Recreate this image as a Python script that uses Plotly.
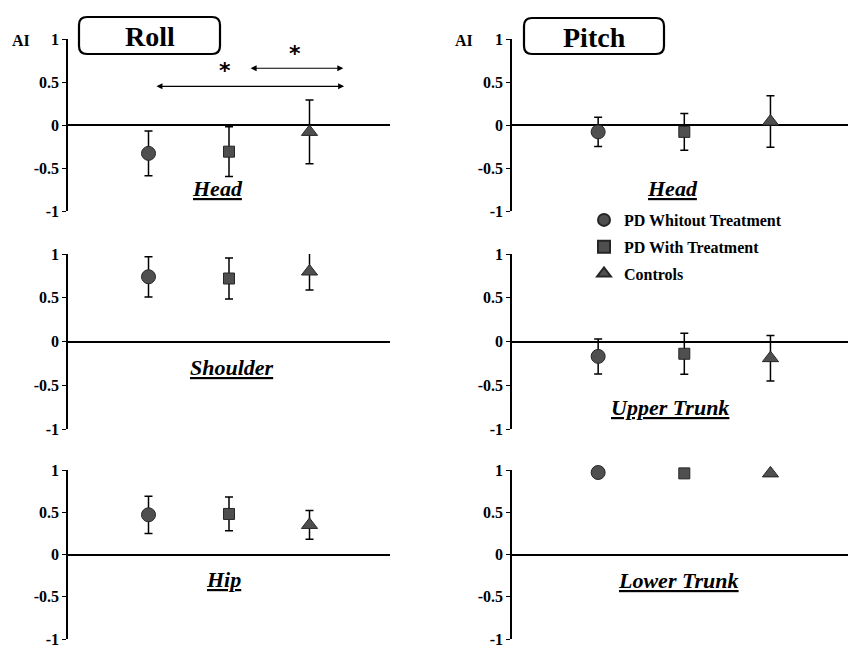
import plotly.graph_objects as go

W, H = 848, 648

groups = ["PD Whitout Treatment", "PD With Treatment", "Controls"]
group_x = [1, 2, 3]
symbols = ["circle", "square", "triangle-up"]
sizes = [14, 11, 14]

roll_head_mean = [-0.33, -0.31, -0.08]
roll_head_err = [0.26, 0.29, 0.37]
roll_shoulder_mean = [0.74, 0.72, 0.80]
roll_shoulder_err = [0.23, 0.235, 0.21]
roll_hip_mean = [0.47, 0.48, 0.35]
roll_hip_err = [0.22, 0.20, 0.17]
pitch_head_mean = [-0.08, -0.08, 0.04]
pitch_head_err = [0.17, 0.215, 0.30]
pitch_upper_mean = [-0.17, -0.14, -0.19]
pitch_upper_err = [0.20, 0.235, 0.26]
pitch_lower_mean = [0.97, 0.96, 0.96]
pitch_lower_err = [0.0, 0.0, 0.0]

yticks = [-1, -0.5, 0, 0.5, 1]
ytick_labels = ["-1", "-0.5", "0", "0.5", "1"]

panels = [
    # (axis suffix, means, errs, label, label x, label y)
    ("", roll_head_mean, roll_head_err, "Head", 1.86, -0.74),
    ("2", pitch_head_mean, pitch_head_err, "Head", 1.86, -0.74),
    ("3", roll_shoulder_mean, roll_shoulder_err, "Shoulder", 2.04, -0.30),
    ("4", pitch_upper_mean, pitch_upper_err, "Upper Trunk", 1.83, -0.75),
    ("5", roll_hip_mean, roll_hip_err, "Hip", 1.93, -0.30),
    ("6", pitch_lower_mean, pitch_lower_err, "Lower Trunk", 1.93, -0.31),
]

FONT = "Liberation Serif"
MARK_FILL = "#4f4f4f"
MARK_LINE = "#262626"


def px_x(p):
    return p / W


def px_y(p):
    return 1 - p / H


fig = go.Figure()

for pi, (suf, means, errs, label, lx, ly) in enumerate(panels):
    for gi, g in enumerate(groups):
        fig.add_trace(go.Scatter(
            x=[group_x[gi]], y=[means[gi]],
            mode="markers",
            name=g,
            legendgroup=g,
            showlegend=(pi == 0),
            cliponaxis=False,
            marker=dict(symbol=symbols[gi], size=sizes[gi], color=MARK_FILL,
                        line=dict(color=MARK_LINE, width=1)),
            error_y=dict(type="data", array=[errs[gi]], visible=errs[gi] > 0,
                         color="black", thickness=1.5, width=4),
            xaxis="x" + suf, yaxis="y" + suf,
        ))

# domains (pixel-derived)
left_dom = [px_x(68), px_x(390)]
right_dom = [px_x(512), 1.0]
row_doms = [
    [px_y(211), px_y(39)],
    [px_y(429), px_y(254)],
    [px_y(639), px_y(470)],
]

layout = dict(
    width=W, height=H,
    margin=dict(l=0, r=0, t=0, b=0, pad=0),
    paper_bgcolor="white", plot_bgcolor="white",
    showlegend=True,
    legend=dict(
        x=px_x(584), y=px_y(203), xanchor="left", yanchor="top",
        font=dict(family=FONT, size=16, color="black", weight="bold"),
        bgcolor="rgba(0,0,0,0)", traceorder="grouped", tracegroupgap=3,
        itemsizing="constant",
    ),
)

for pi, (suf, *_rest) in enumerate(panels):
    col = pi % 2
    row = pi // 2
    xa = dict(
        domain=left_dom if col == 0 else right_dom,
        range=[0, 4] if col == 0 else [0, 3.9],
        showgrid=False, zeroline=False, showline=False,
        showticklabels=False, ticks="", automargin=False,
        anchor="y" + suf,
    )
    ya = dict(
        domain=row_doms[row],
        range=[-1, 1],
        showgrid=False, automargin=False,
        zeroline=True, zerolinecolor="black", zerolinewidth=2,
        showline=True, linecolor="black", linewidth=1.5,
        tickmode="array", tickvals=yticks, ticktext=ytick_labels,
        ticks="outside", ticklen=4, tickwidth=1.2, tickcolor="black",
        tickfont=dict(family=FONT, size=16, color="black", weight="bold"),
        ticklabeloverflow="allow",
        anchor="x" + suf,
    )
    layout["xaxis" + suf] = xa
    layout["yaxis" + suf] = ya

fig.update_layout(**layout)

annotations = []
for suf, _m, _e, label, lx, ly in panels:
    annotations.append(dict(
        x=lx, y=ly, xref="x" + suf, yref="y" + suf,
        text="<u>" + label + "</u>", showarrow=False,
        font=dict(family=FONT, size=22, color="black", weight="bold", style="italic"),
        xanchor="center", yanchor="middle",
    ))

# AI labels
for xpix in (21, 464):
    annotations.append(dict(
        x=px_x(xpix), y=px_y(40), xref="paper", yref="paper",
        text="AI", showarrow=False,
        font=dict(family=FONT, size=16, color="black", weight="bold"),
        xanchor="center", yanchor="middle",
    ))

# Titles in rounded boxes
titles = [("Roll", 79, 220, 17, 54), ("Pitch", 524, 664, 18, 54)]
shapes = []
r = 8
for t, x0, x1, y0, y1 in titles:
    p = (
        f"M {px_x(x0 + r)},{px_y(y0)} L {px_x(x1 - r)},{px_y(y0)} "
        f"Q {px_x(x1)},{px_y(y0)} {px_x(x1)},{px_y(y0 + r)} "
        f"L {px_x(x1)},{px_y(y1 - r)} Q {px_x(x1)},{px_y(y1)} {px_x(x1 - r)},{px_y(y1)} "
        f"L {px_x(x0 + r)},{px_y(y1)} Q {px_x(x0)},{px_y(y1)} {px_x(x0)},{px_y(y1 - r)} "
        f"L {px_x(x0)},{px_y(y0 + r)} Q {px_x(x0)},{px_y(y0)} {px_x(x0 + r)},{px_y(y0)} Z"
    )
    shapes.append(dict(type="path", path=p, xref="paper", yref="paper",
                       line=dict(color="black", width=2.2), fillcolor="white"))
    annotations.append(dict(
        x=px_x((x0 + x1) / 2), y=px_y((y0 + y1) / 2 + 1), xref="paper", yref="paper",
        text=t, showarrow=False,
        font=dict(family=FONT, size=28, color="black", weight="bold"),
        xanchor="center", yanchor="middle",
    ))

# significance arrows and stars (Roll / Head)
sig_arrows = [(1.08, 3.43, 0.45), (2.25, 3.42, 0.66)]
for xa_, xb_, yv in sig_arrows:
    annotations.append(dict(
        x=xb_, y=yv, ax=xa_, ay=yv, xref="x", yref="y", axref="x", ayref="y",
        text="", showarrow=True, arrowhead=2, arrowside="end+start",
        arrowsize=1, arrowwidth=1.2, arrowcolor="black", standoff=0, startstandoff=0,
    ))
stars = [(1.95, 0.63), (2.82, 0.83)]
for sx, sy in stars:
    annotations.append(dict(
        x=sx, y=sy, xref="x", yref="y", text="<b>*</b>", showarrow=False,
        font=dict(family="DejaVu Sans", size=22, color="black"),
        xanchor="center", yanchor="middle",
    ))

fig.update_layout(annotations=annotations, shapes=shapes)

fig.write_html("out.html",
               config={"displayModeBar": False},
               post_script="document.body.style.margin='0px';document.body.style.overflow='hidden';")
